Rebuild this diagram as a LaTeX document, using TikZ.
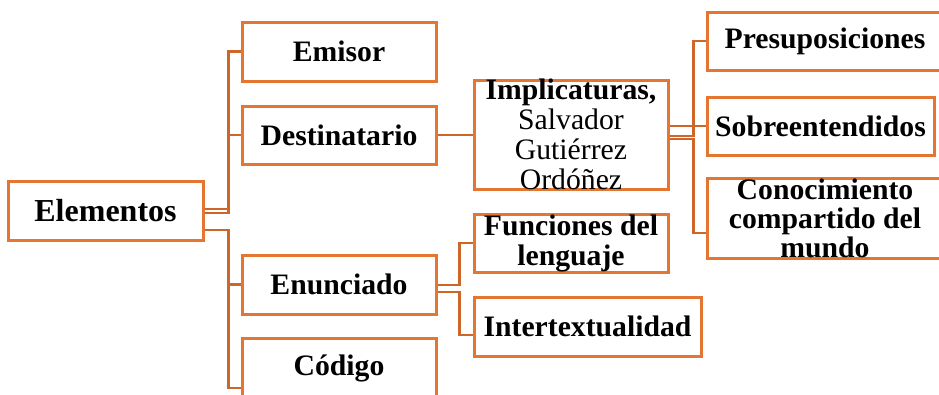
\documentclass[tikz,border=0pt]{standalone}
\usepackage{fontspec}
\setmainfont{Liberation Serif}
\definecolor{boxc}{RGB}{228,118,50}
\definecolor{linec}{RGB}{205,102,40}
\begin{document}
\begin{tikzpicture}[x=1pt,y=-1pt,
  box/.style={draw=boxc,line width=3pt,inner sep=0pt,align=center,
    font=\fontsize{29.7}{30}\selectfont\bfseries},
  lbl/.style={inner sep=0pt,align=center,font=\fontsize{29.7}{30}\selectfont},
  conn/.style={draw=linec,line width=2.8pt}]
\useasboundingbox (0,0) rectangle (939,394);
\clip (0,0) rectangle (939,394);
% level 1
\node[box,minimum width=195pt,minimum height=59pt,font=\fontsize{32}{32}\selectfont\bfseries] (elem) at (105.5,210.5) {Elementos};
% level 2
\node[box,minimum width=194pt,minimum height=59pt] (emisor) at (339,51.5) {Emisor};
\node[box,minimum width=194pt,minimum height=58pt] (dest) at (339,135) {Destinatario};
\node[box,minimum width=194pt,minimum height=59pt] (enun) at (339,284.5) {Enunciado};
\node[box,minimum width=194pt,minimum height=60pt] (codigo) at (339,368) {Código};
% level 3
\node[box,minimum width=194pt,minimum height=109pt,
  label={[lbl]center:{\bfseries Implicaturas,\\Salvador\\Gutiérrez\\Ordóñez}}] (impl) at (571,134.5) {};
\node[box,minimum width=194pt,minimum height=58pt] (func) at (571,243) {Funciones del\\lenguaje};
\node[box,minimum width=227pt,minimum height=59pt] (inter) at (587.5,326.5) {Intertextualidad};
% level 4
\node[box,minimum width=236pt,minimum height=58pt] (presup) at (825,41) {Presuposiciones};
\node[box,minimum width=227pt,minimum height=58pt] (sobre) at (820.5,126) {Sobreentendidos};
\node[box,minimum width=236pt,minimum height=80pt,
  label={[lbl,font=\fontsize{29.7}{29}\selectfont\bfseries]center:{Conocimiento\\compartido del\\mundo}}] (conoc) at (825,218) {};
% connectors from Elementos
\draw[conn] ([shift={(0,-1.5)}]elem.east) -- ++(24,0) |- (emisor.west);
\draw[conn] ([shift={(0,2.5)}]elem.east) -- ++(24,0) |- (dest.west);
\draw[conn] ([shift={(0,19.5)}]elem.east) -- ++(24,0) |- (enun.west);
\draw[conn] ([shift={(0,19.5)}]elem.east) -- ++(24,0) |- ([shift={(0,20)}]codigo.west);
% Destinatario -> Implicaturas
\draw[conn] (dest.east) -- (dest.east -| impl.west);
% Implicaturas -> level 4
\draw[conn] ([shift={(0,-8.5)}]impl.east) -- ++(24,0) |- (sobre.west);
\draw[conn] ([shift={(0,1.5)}]impl.east) -- ++(24,0) |- (presup.west);
\draw[conn] ([shift={(0,4.5)}]impl.east) -- ++(24,0) |- ([shift={(0,15)}]conoc.west);
% Enunciado -> level 3
\draw[conn] ([shift={(0,0.5)}]enun.east) -- ++(22,0) |- (func.west);
\draw[conn] ([shift={(0,7.5)}]enun.east) -- ++(22,0) |- ([shift={(0,8.5)}]inter.west);
\end{tikzpicture}
\end{document}
